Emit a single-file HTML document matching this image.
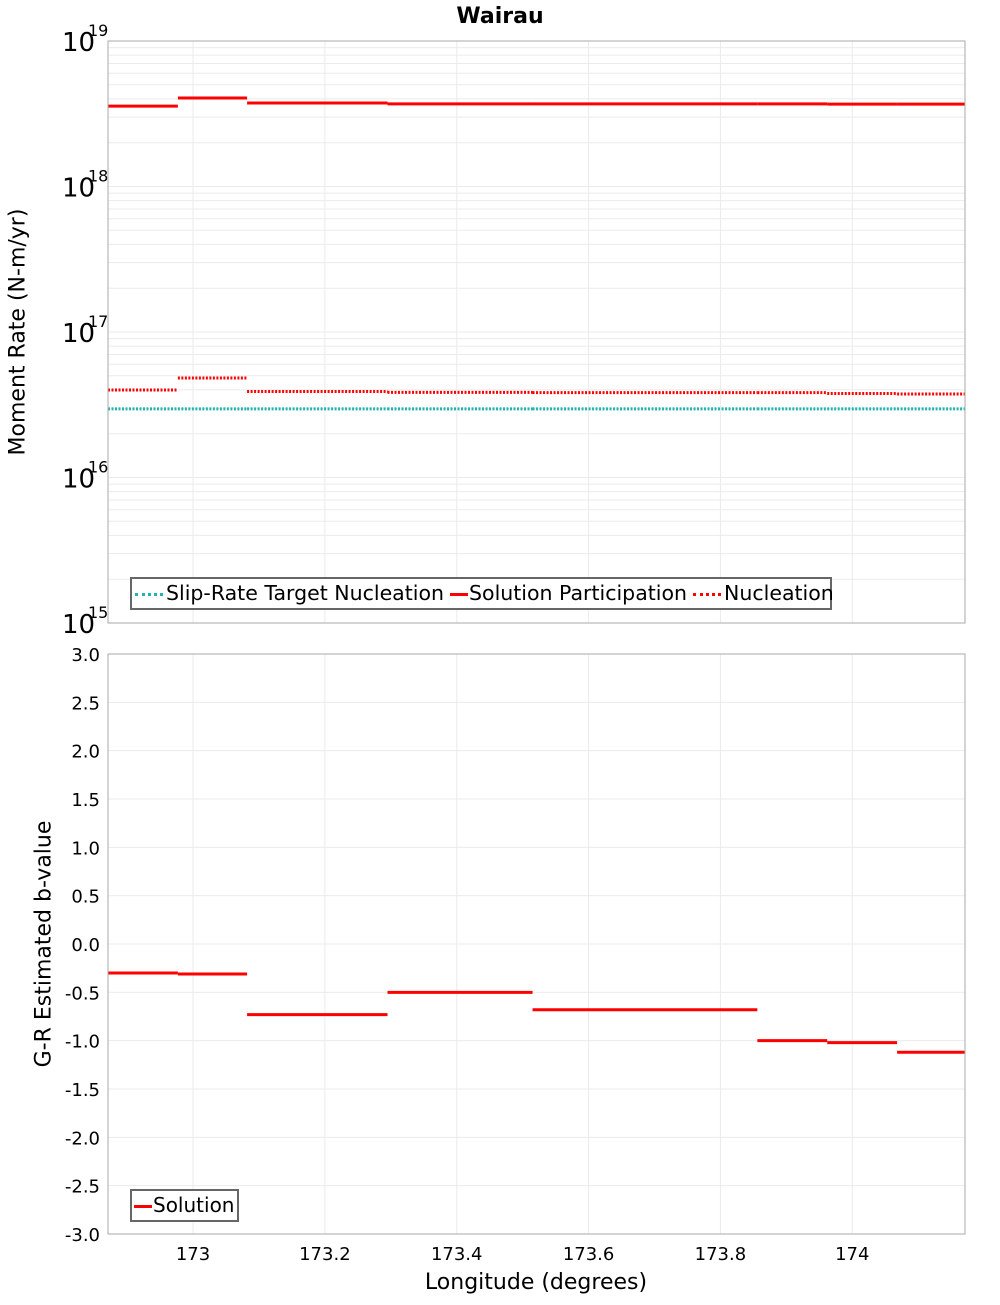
<!DOCTYPE html>
<html><head><meta charset="utf-8"><style>
body{margin:0;background:#fff;font-family:"Liberation Sans","DejaVu Sans",sans-serif}
svg text{font-family:"DejaVu Sans","Liberation Sans",sans-serif}
</style></head><body>
<svg id="c" width="1000" height="1300" xmlns="http://www.w3.org/2000/svg">
<text x="500" y="23" text-anchor="middle" font-size="22" font-weight="bold">Wairau</text>
<g id="topPanel"></g>
<g id="botPanel"></g>
</svg>
<script>
const edges=[172.871,172.977,173.082,173.295,173.515,173.856,173.962,174.068,174.171];
const participation=[3.57e18,4.06e18,3.75e18,3.7e18,3.7e18,3.7e18,3.68e18,3.68e18];
const nucleation=[3.99e16,4.83e16,3.9e16,3.85e16,3.83e16,3.83e16,3.78e16,3.75e16];
const target=[2.96e16,2.96e16,2.96e16,2.96e16,2.96e16,2.96e16,2.96e16,2.96e16];
const bvalue=[-0.3,-0.31,-0.73,-0.5,-0.68,-1.0,-1.02,-1.12];
const xTicks=[173,173.2,173.4,173.6,173.8,174];
const xTickLabels=["173","173.2","173.4","173.6","173.8","174"];
const bTicks=[3,2.5,2,1.5,1,0.5,0,-0.5,-1,-1.5,-2,-2.5,-3];

const NS="http://www.w3.org/2000/svg";
const L=108,R=965;
const xs=v=>L+(v-edges[0])/(edges[edges.length-1]-edges[0])*(R-L);
const T1=41,B1=623;const ys1=v=>B1-(Math.log10(v)-15)/4*(B1-T1);
const T2=654,B2=1234;const ys2=v=>B2-(v+3)/6*(B2-T2);
function mk(p,tag,a){const e=document.createElementNS(NS,tag);for(const k in a)e.setAttribute(k,a[k]);p.appendChild(e);return e;}
const topG=document.getElementById('topPanel'),botG=document.getElementById('botPanel');
for(let d=15;d<19;d++)for(let m=1;m<10;m++){const y=ys1(m*Math.pow(10,d));
 const g=mk(topG,'line',{x1:L,x2:R,y1:y,y2:y,stroke:'#ebebeb','stroke-width':1});
 
 }
xTicks.forEach(t=>{[topG,botG].forEach((p,i)=>{const g=mk(p,'line',{x1:xs(t),x2:xs(t),y1:i?T2:T1,y2:i?B2:B1,stroke:'#ebebeb'});
 
 });});
bTicks.forEach(t=>{const g=mk(botG,'line',{x1:L,x2:R,y1:ys2(t),y2:ys2(t),stroke:'#ebebeb'});
 
 
 const tx=mk(botG,'text',{x:100,y:ys2(t)+7,'text-anchor':'end','font-size':18});tx.textContent=t.toFixed(1);
 
 });
for(let d=15;d<=19;d++){const y=ys1(Math.pow(10,d));
 const tx=mk(topG,'text',{x:62,y:y+10,'font-size':26});tx.textContent='10';
 
 
 const s=mk(topG,'text',{x:88,y:y-5,'font-size':16});s.textContent=String(d);
 
 }
xTicks.forEach((t,i)=>{const tx=mk(botG,'text',{x:xs(t),y:1260,'text-anchor':'middle','font-size':18});tx.textContent=xTickLabels[i];
 
 });
function series(p,arr,ys,color,dash,name){arr.forEach((v,i)=>{const a={x1:xs(edges[i]),x2:xs(edges[i+1]),y1:ys(v),y2:ys(v),stroke:color,'stroke-width':3};if(dash)a['stroke-dasharray']='2,1.5';
 const l=mk(p,'line',a);
 
 });}
series(topG,target,ys1,'#1fb3b3',true,'target-segment');
series(topG,nucleation,ys1,'#ff0000',true,'nucleation-segment');
series(topG,participation,ys1,'#ff0000',false,'participation-segment');
series(botG,bvalue,ys2,'#ff0000',false,'b-value-segment');
[[T1,B1,topG],[T2,B2,botG]].forEach(([t,b,p])=>{const r=mk(p,'rect',{x:L,y:t,width:R-L,height:b-t,fill:'none',stroke:'#aaa'});
 
 });
</script>
<div style="position:absolute;left:0;top:0;width:1000px;height:1300px;pointer-events:none">
<div style="position:absolute;left:18px;top:332px;transform:translate(-50%,-50%) rotate(-90deg);font-family:'DejaVu Sans',sans-serif;font-size:22px;white-space:nowrap">Moment Rate (N-m/yr)</div>
<div style="position:absolute;left:44px;top:944px;transform:translate(-50%,-50%) rotate(-90deg);font-family:'DejaVu Sans',sans-serif;font-size:22px;white-space:nowrap">G-R Estimated b-value</div>
<div style="position:absolute;left:536px;top:1270px;transform:translateX(-50%);font-family:'DejaVu Sans',sans-serif;font-size:22px;white-space:nowrap">Longitude (degrees)</div>
<div style="position:absolute;left:130px;top:577px;width:698px;height:29px;border:2px solid #666;background:#fff;font-family:'DejaVu Sans',sans-serif;font-size:20.5px;line-height:29px;white-space:nowrap">
<span><span style="display:inline-block;width:28px;border-top:3px dotted #1fb3b3;vertical-align:middle;margin:0 3px"></span>Slip-Rate Target Nucleation</span><span><span style="display:inline-block;width:18px;border-top:3px solid red;vertical-align:middle;margin:0 1px 0 6px"></span>Solution Participation</span><span><span style="display:inline-block;width:28px;border-top:3px dotted red;vertical-align:middle;margin:0 3px 0 6px"></span>Nucleation</span>
</div>
<div style="position:absolute;left:130px;top:1189px;width:105px;height:29px;border:2px solid #666;background:#fff;font-family:'DejaVu Sans',sans-serif;font-size:20px;line-height:29px;white-space:nowrap">
<span><span style="display:inline-block;width:18px;border-top:3px solid red;vertical-align:middle;margin:0 1px 0 2px"></span>Solution</span>
</div>
</div>
</body></html>
